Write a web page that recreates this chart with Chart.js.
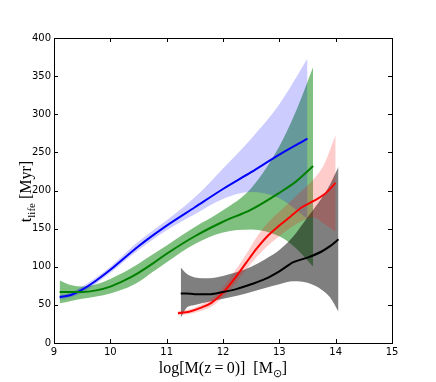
<!DOCTYPE html>
<html>
<head>
<meta charset="utf-8">
<script src="https://cdn.jsdelivr.net/npm/chart.js@4"></script>
<style>
  body { margin: 0; background: #fff; }
  #wrap { width: 436px; height: 382px; }
</style>
</head>
<body>
<div id="wrap"><canvas id="c"></canvas></div>
<script>
// data: x = log M(z=0), y = t_life in Myr
const blueX  = [9.1, 9.3, 9.5, 9.75, 10, 10.5, 11, 11.5, 12, 12.5, 13, 13.5];
const blueMid = [60, 63, 70, 82, 96, 127, 154, 178, 202, 224, 247, 268];
const blueHi  = [63, 66, 74, 86, 100, 133, 161, 191, 229, 268, 313, 373];
const blueLo  = [57, 60, 66, 78, 92, 122, 148, 169, 189, 198, 190, 163];

const greenX  = [9.1, 9.3, 9.5, 9.75, 10, 10.25, 10.5, 10.75, 11, 11.5, 12, 12.5, 13, 13.3, 13.6];
const greenMid = [67, 67, 67, 69, 74, 82, 92, 104, 117, 140, 159, 175, 197, 212, 232];
const greenHi  = [82, 76, 74, 77, 84, 93, 104, 116, 128, 152, 174, 203, 258, 305, 362];
const greenLo  = [52, 55, 58, 61, 65, 71, 80, 93, 106, 130, 145, 149, 140, 124, 100];

const redX  = [11.2, 11.4, 11.6, 11.8, 12, 12.2, 12.4, 12.6, 12.8, 13, 13.2, 13.4, 13.6, 13.8, 14];
const redMid = [39, 41, 46, 53, 66, 84, 104, 124, 141, 154, 166, 178, 186, 195, 210];
const redHi  = [42, 44, 50, 58, 73, 93, 115, 139, 158, 172, 186, 200, 214, 235, 273];
const redLo  = [36, 38, 42, 48, 60, 76, 95, 113, 128, 140, 151, 160, 165, 156, 146];

const blackX  = [11.25, 11.35, 11.5, 11.75, 12, 12.25, 12.5, 12.75, 13, 13.25, 13.5, 13.75, 13.9, 14.05];
const blackMid = [65, 65, 64, 64, 67, 71, 77, 84, 94, 106, 112, 120, 127, 136];
const blackHi  = [99, 91, 86, 85, 88, 93, 100, 110, 122, 140, 165, 190, 208, 231];
const blackLo  = [33, 46, 50, 54, 58, 62, 67, 72, 77, 81, 79, 70, 60, 41];

const xTicks = [9, 10, 11, 12, 13, 14, 15];
const yTicks = [0, 50, 100, 150, 200, 250, 300, 350, 400];

const pts = (xs, ys) => xs.map((x, i) => ({ x: x, y: ys[i] }));

function line(xs, ys, color) {
  return {
    data: pts(xs, ys), borderColor: color, borderWidth: 2,
    pointRadius: 0, fill: false, cubicInterpolationMode: "monotone"
  };
}

function edge(xs, ys, fill, bg) {
  return {
    data: pts(xs, ys), borderColor: "rgba(0,0,0,0)", borderWidth: 0,
    backgroundColor: bg, pointRadius: 0, fill: fill,
    cubicInterpolationMode: "monotone"
  };
}

// lines first (drawn on top), then bands: last one ends up at the bottom
const datasets = [
  line(blackX, blackMid, "#000000"),
  line(redX, redMid, "#ff0000"),
  line(greenX, greenMid, "#008000"),
  line(blueX, blueMid, "#0000ff"),
  edge(redX, redHi, 5, "rgba(255,0,0,0.2)"),
  edge(redX, redLo, false),
  edge(blackX, blackHi, 7, "rgba(0,0,0,0.5)"),
  edge(blackX, blackLo, false),
  edge(blueX, blueHi, 9, "rgba(0,0,255,0.2)"),
  edge(blueX, blueLo, false),
  edge(greenX, greenHi, 11, "rgba(0,128,0,0.5)"),
  edge(greenX, greenLo, false)
];

// frame, inward ticks on all four sides, axis titles
const decor = {
  id: "decor",
  afterDraw(chart) {
    const ctx = chart.ctx;
    const a = chart.chartArea;
    const sx = chart.scales.x, sy = chart.scales.y;
    ctx.save();
    ctx.strokeStyle = "#000";
    ctx.lineWidth = 1;
    ctx.strokeRect(Math.round(a.left) + 0.5, Math.round(a.top) + 0.5,
      Math.round(a.right - a.left), Math.round(a.bottom - a.top));
    ctx.beginPath();
    xTicks.forEach(v => {
      const px = Math.round(sx.getPixelForValue(v)) + 0.5;
      ctx.moveTo(px, a.bottom); ctx.lineTo(px, a.bottom - 4);
      ctx.moveTo(px, a.top); ctx.lineTo(px, a.top + 4);
    });
    yTicks.forEach(v => {
      const py = Math.round(sy.getPixelForValue(v)) + 0.5;
      ctx.moveTo(a.left, py); ctx.lineTo(a.left + 4, py);
      ctx.moveTo(a.right, py); ctx.lineTo(a.right - 4, py);
    });
    ctx.stroke();

    ctx.fillStyle = "#000";
    ctx.textBaseline = "alphabetic";
    const big = "16px 'Liberation Serif'";
    const small = "11px 'Liberation Serif'";

    // x title
    const xParts = [["log[M(z\u2009=\u20090)]  [M", big, 0], ["\u2299", small, 4], ["]", big, 0]];
    drawParts(ctx, xParts, (a.left + a.right) / 2, 373);

    // y title, rotated
    ctx.translate(31, (a.top + a.bottom) / 2 + 1);
    ctx.rotate(-Math.PI / 2);
    const yParts = [["t", big, 0], ["life", small, 4], [" [Myr]", big, 0]];
    drawParts(ctx, yParts, 0, 0);
    ctx.restore();
  }
};

function drawParts(ctx, parts, cx, base) {
  let total = 0;
  parts.forEach(p => { ctx.font = p[1]; total += ctx.measureText(p[0]).width; });
  let x = cx - total / 2;
  parts.forEach(p => {
    ctx.font = p[1];
    ctx.fillText(p[0], x, base + p[2]);
    x += ctx.measureText(p[0]).width;
  });
}

new Chart(document.getElementById("c"), {
  type: "line",
  data: { datasets },
  plugins: [decor],
  options: {
    responsive: true,
    maintainAspectRatio: false,
    animation: false,
    layout: { padding: { left: 0, top: 38, right: 44, bottom: 0 } },
    plugins: {
      legend: { display: false },
      tooltip: { enabled: false },
      filler: { drawTime: "beforeDatasetsDraw" }
    },
    scales: {
      x: {
        type: "linear", min: 9, max: 15,
        afterFit: s => { s.height = 39; },
        afterBuildTicks: s => { s.ticks = xTicks.map(v => ({ value: v })); },
        grid: { display: false, drawTicks: false },
        border: { display: false },
        ticks: { padding: 3, color: "#000", font: { family: "DejaVu Sans", size: 10 } }
      },
      y: {
        type: "linear", min: 0, max: 400,
        afterFit: s => { s.width = 54; },
        afterBuildTicks: s => { s.ticks = yTicks.map(v => ({ value: v })); },
        grid: { display: false, drawTicks: false },
        border: { display: false },
        ticks: { padding: 3, color: "#000", font: { family: "DejaVu Sans", size: 10 } }
      }
    }
  }
});
</script>
</body>
</html>
